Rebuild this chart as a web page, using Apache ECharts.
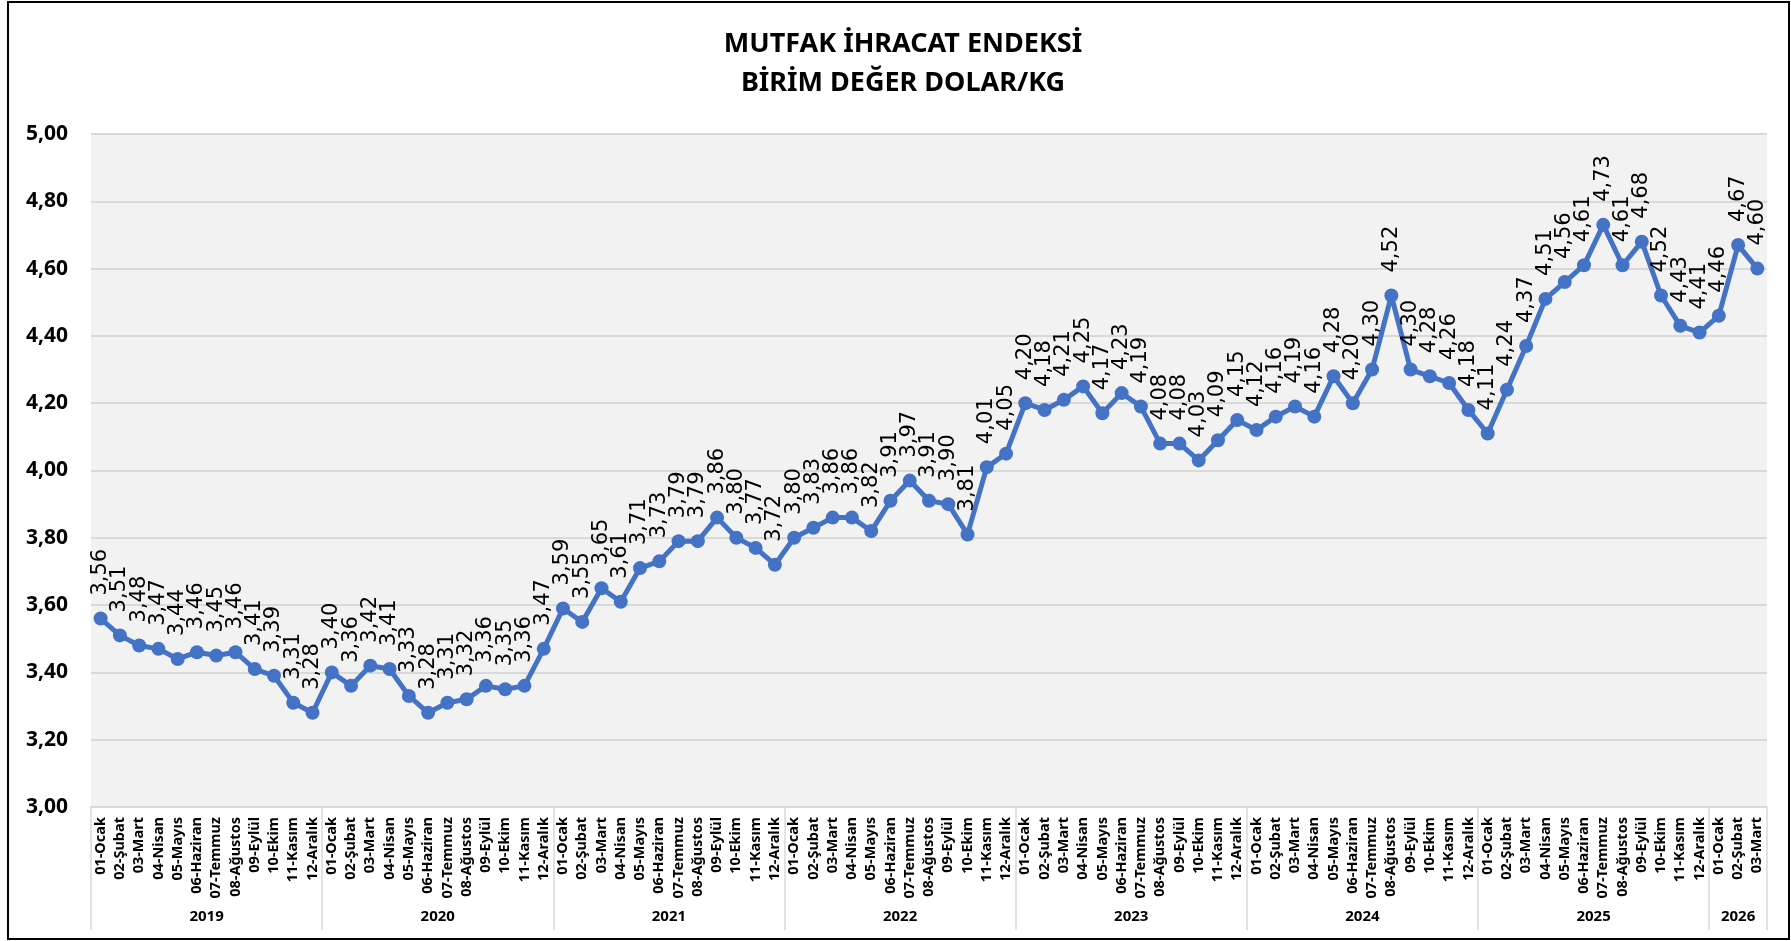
<!DOCTYPE html>
<html lang="tr">
<head>
<meta charset="utf-8">
<title>Mutfak İhracat Endeksi - Birim Değer Dolar/Kg</title>
<script src="https://cdn.jsdelivr.net/npm/echarts@6/dist/echarts.min.js"></script>
<style>
  html, body { margin: 0; padding: 0; background: #ffffff; }
  #chart { position: absolute; left: 0; top: 0; width: 1791px; height: 941px; }
  #frame { position: absolute; left: 7px; top: 1px; width: 1783px; height: 939px;
           border: 2px solid #000; box-sizing: border-box; pointer-events: none; }
</style>
</head>
<body>
<div id="chart"></div>
<div id="frame"></div>
<script>
// Month names shown on the category axis
const monthNames = ['01-Ocak', '02-Şubat', '03-Mart', '04-Nisan', '05-Mayıs', '06-Haziran',
                    '07-Temmuz', '08-Ağustos', '09-Eylül', '10-Ekim', '11-Kasım', '12-Aralık'];

// Years shown on the group axis
const years = ['2019', '2020', '2021', '2022', '2023', '2024', '2025', '2026'];

// Unit value (USD/kg) per month, one array per year
const v2019 = [3.56, 3.51, 3.48, 3.47, 3.44, 3.46, 3.45, 3.46, 3.41, 3.39, 3.31, 3.28];
const v2020 = [3.40, 3.36, 3.42, 3.41, 3.33, 3.28, 3.31, 3.32, 3.36, 3.35, 3.36, 3.47];
const v2021 = [3.59, 3.55, 3.65, 3.61, 3.71, 3.73, 3.79, 3.79, 3.86, 3.80, 3.77, 3.72];
const v2022 = [3.80, 3.83, 3.86, 3.86, 3.82, 3.91, 3.97, 3.91, 3.90, 3.81, 4.01, 4.05];
const v2023 = [4.20, 4.18, 4.21, 4.25, 4.17, 4.23, 4.19, 4.08, 4.08, 4.03, 4.09, 4.15];
const v2024 = [4.12, 4.16, 4.19, 4.16, 4.28, 4.20, 4.30, 4.52, 4.30, 4.28, 4.26, 4.18];
const v2025 = [4.11, 4.24, 4.37, 4.51, 4.56, 4.61, 4.73, 4.61, 4.68, 4.52, 4.43, 4.41];
const v2026 = [4.46, 4.67, 4.60];

// Y axis range and step
const yMin = 3.0, yMax = 5.0, yStep = 0.2;

const yearValues = [v2019, v2020, v2021, v2022, v2023, v2024, v2025, v2026];

// Flatten into one category list and one value list
const categories = [];
const values = [];
const groupBounds = [0];
const groupCenters = [];
yearValues.forEach(function (arr) {
  const start = categories.length;
  arr.forEach(function (v, i) {
    categories.push(monthNames[i]);
    values.push(v);
  });
  groupBounds.push(categories.length);
  groupCenters.push((start + categories.length) / 2);
});

const fmt = function (v) { return v.toFixed(2).replace('.', ','); };

const chart = echarts.init(document.getElementById('chart'));

chart.setOption({
  backgroundColor: 'transparent',
  animation: false,
  title: {
    text: 'MUTFAK İHRACAT ENDEKSİ\nBİRİM DEĞER DOLAR/KG',
    left: 898,
    top: 20,
    textAlign: 'center',
    textStyle: {
      fontFamily: '"Noto Sans", sans-serif',
      fontWeight: 'bold',
      fontSize: 27,
      lineHeight: 39,
      color: '#000'
    }
  },
  grid: {
    left: 91,
    right: 24,
    top: 134,
    bottom: 134,
    show: true,
    backgroundColor: '#f2f2f2',
    borderWidth: 0
  },
  xAxis: [
    {
      type: 'category',
      data: categories,
      position: 'bottom',
      boundaryGap: true,
      axisLine: { show: true, lineStyle: { color: '#d9d9d9', width: 2 } },
      axisTick: { show: false },
      axisLabel: {
        interval: 0,
        rotate: 90,
        margin: 10,
        fontFamily: '"Noto Sans", sans-serif',
        fontWeight: 'bold',
        fontSize: 14.5,
        color: '#000'
      },
      splitLine: { show: false }
    },
    {
      type: 'value',
      min: 0,
      max: categories.length,
      position: 'bottom',
      axisLine: { show: false },
      axisTick: {
        show: true,
        customValues: groupBounds,
        length: 123,
        lineStyle: { color: '#d9d9d9', width: 1.5 }
      },
      axisLabel: {
        show: true,
        customValues: groupCenters,
        margin: 102,
        fontFamily: '"Noto Sans", sans-serif',
        fontWeight: 'bold',
        fontSize: 15,
        color: '#000',
        formatter: function (val) {
          const idx = groupCenters.findIndex(function (c) { return Math.abs(c - val) < 1e-6; });
          return idx >= 0 ? years[idx] : '';
        }
      },
      splitLine: { show: false }
    }
  ],
  yAxis: {
    type: 'value',
    min: yMin,
    max: yMax,
    interval: yStep,
    axisLine: { show: false },
    axisTick: { show: false },
    axisLabel: {
      margin: 23,
      fontFamily: '"Noto Sans", sans-serif',
      fontWeight: 'bold',
      fontSize: 21,
      color: '#000',
      formatter: fmt
    },
    splitLine: { show: true, lineStyle: { color: '#d9d9d9', width: 2 } }
  },
  series: [
    {
      type: 'line',
      xAxisIndex: 0,
      yAxisIndex: 0,
      data: values,
      symbol: 'circle',
      symbolSize: 14,
      showAllSymbol: true,
      lineStyle: { color: '#4472c4', width: 5 },
      itemStyle: { color: '#4472c4' },
      label: {
        show: true,
        position: 'top',
        distance: 16,
        rotate: 90,
        align: 'left',
        verticalAlign: 'middle',
        fontFamily: '"DejaVu Sans", sans-serif',
        fontSize: 21,
        color: '#000',
        formatter: function (p) { return fmt(p.value); }
      },
      emphasis: { disabled: true }
    }
  ]
});
</script>
</body>
</html>
